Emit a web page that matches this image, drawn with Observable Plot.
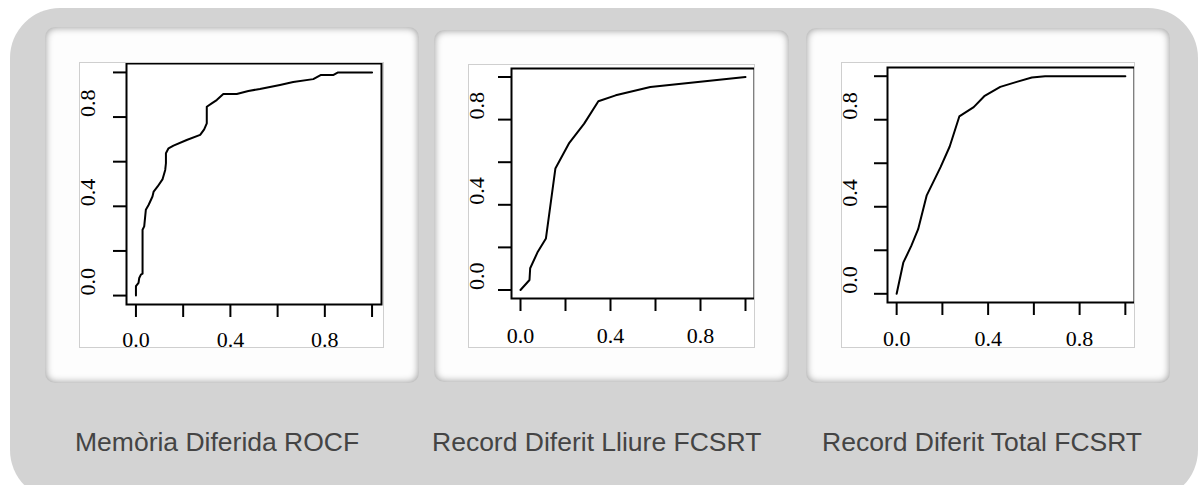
<!DOCTYPE html>
<html><head><meta charset="utf-8">
<script src="https://cdn.jsdelivr.net/npm/d3@7"></script>
<script src="https://cdn.jsdelivr.net/npm/@observablehq/plot@0.6"></script>
<style>
html,body{margin:0;padding:0;background:#fff;width:1200px;height:485px;overflow:hidden;position:relative;}
#bg{position:absolute;left:10px;top:8px;width:1188px;height:492px;border-radius:50px;background:#d3d3d3;}
.card{position:absolute;background:#fdfdfd;border-radius:10px;box-shadow:inset 0 0 7px 1px rgba(0,0,0,0.36);}
.img{position:absolute;overflow:hidden;background:#fff;outline:1px solid #cfcfcf;outline-offset:-1px;}
.img svg{display:block;}
.cap{position:absolute;top:427px;line-height:30px;font-family:"Liberation Sans",Arial,sans-serif;font-size:26.5px;color:#444;white-space:nowrap;}
</style></head>
<body>
<div id="bg"></div>
<div id="root"></div>
<script>
// ---- data ----
const rocfFpr = [0,0,0.011,0.014,0.021,0.028,0.028,0.035,0.042,0.054,0.070,0.075,0.092,0.113,0.124,0.127,0.127,0.138,0.159,0.215,0.272,0.289,0.300,0.300,0.321,0.342,0.370,0.427,0.476,0.525,0.610,0.666,0.751,0.782,0.835,0.856,1];
const rocfTpr = [0,0.042,0.057,0.079,0.094,0.098,0.295,0.310,0.385,0.407,0.444,0.466,0.489,0.522,0.563,0.593,0.638,0.660,0.672,0.697,0.720,0.745,0.772,0.846,0.861,0.876,0.903,0.903,0.917,0.926,0.944,0.957,0.970,0.988,0.988,1,1];

const lliureFpr = [0,0.040,0.043,0.077,0.113,0.155,0.217,0.283,0.346,0.423,0.577,1];
const lliureTpr = [0,0.047,0.102,0.180,0.242,0.570,0.691,0.781,0.886,0.914,0.953,1];

const totalFpr = [0,0.029,0.064,0.094,0.131,0.192,0.232,0.274,0.337,0.383,0.453,0.525,0.591,0.649,1];
const totalTpr = [0,0.143,0.220,0.297,0.451,0.582,0.677,0.815,0.858,0.908,0.951,0.974,0.994,1,1];

const captions = ["Memòria Diferida ROCF", "Record Diferit Lliure FCSRT", "Record Diferit Total FCSRT"];
const axisTicks = [0, 0.2, 0.4, 0.6, 0.8, 1];
const axisLabels = ["0.0", "", "0.4", "", "0.8", ""];

// ---- layout ----
const layout = [
  {card:{x:45,y:27,w:374,h:356}, img:{x:79,y:62,w:305,h:286}, m:{l:47,r:3,t:1,b:44}, pad:14, ydx:-39, capX:75},
  {card:{x:434,y:30,w:355,h:352}, img:{x:468,y:64,w:287,h:284}, m:{l:43,r:1,t:4,b:50}, pad:16, ydx:-35, capX:432},
  {card:{x:806,y:28,w:364,h:355}, img:{x:841,y:62,w:294,h:286}, m:{l:46,r:1,t:5,b:46}, pad:15, ydx:-38, capX:822}
];
const series = [[rocfFpr, rocfTpr], [lliureFpr, lliureTpr], [totalFpr, totalTpr]];

const labelMap = new Map(axisTicks.map((t, i) => [t, axisLabels[i]]));
const labelled = axisTicks.filter((t, i) => axisLabels[i] !== "");

function roc(fpr, tpr, L) {
  const data = fpr.map((x, i) => ({fpr: x, tpr: tpr[i]}));
  return Plot.plot({
    width: L.img.w, height: L.img.h,
    marginLeft: L.m.l, marginRight: L.m.r, marginTop: L.m.t, marginBottom: L.m.b,
    style: {fontFamily: '"Liberation Serif","Times New Roman",serif', fontSize: "22px", background: "transparent", color: "#000"},
    x: {domain: [-0.04, 1.04], label: null},
    y: {domain: [-0.04, 1.04], label: null},
    marks: [
      Plot.axisX({ticks: axisTicks, label: null, tickSize: 13, tickPadding: L.pad, strokeWidth: 2, stroke: "#000", fill: "#000", tickFormat: d => labelMap.get(d)}),
      Plot.axisY({ticks: axisTicks, label: null, tickSize: 13, strokeWidth: 2, stroke: "#000", tickFormat: () => ""}),
      Plot.text(labelled, {y: d => d, text: d => labelMap.get(d), frameAnchor: "left", dx: L.ydx, rotate: -90, fontSize: 22, fill: "#000"}),
      Plot.line(data, {x: "fpr", y: "tpr", stroke: "#000", strokeWidth: 2}),
      Plot.frame({stroke: "#000", strokeWidth: 2})
    ]
  });
}

const root = document.getElementById("root");
layout.forEach((L, k) => {
  const card = document.createElement("div");
  card.className = "card";
  Object.assign(card.style, {left: L.card.x + "px", top: L.card.y + "px", width: L.card.w + "px", height: L.card.h + "px"});
  root.appendChild(card);
  const wrap = document.createElement("div");
  wrap.className = "img";
  Object.assign(wrap.style, {left: L.img.x + "px", top: L.img.y + "px", width: L.img.w + "px", height: L.img.h + "px"});
  wrap.appendChild(roc(series[k][0], series[k][1], L));
  root.appendChild(wrap);
  const cap = document.createElement("div");
  cap.className = "cap";
  cap.style.left = L.capX + "px";
  cap.textContent = captions[k];
  root.appendChild(cap);
});
</script>
</body></html>
